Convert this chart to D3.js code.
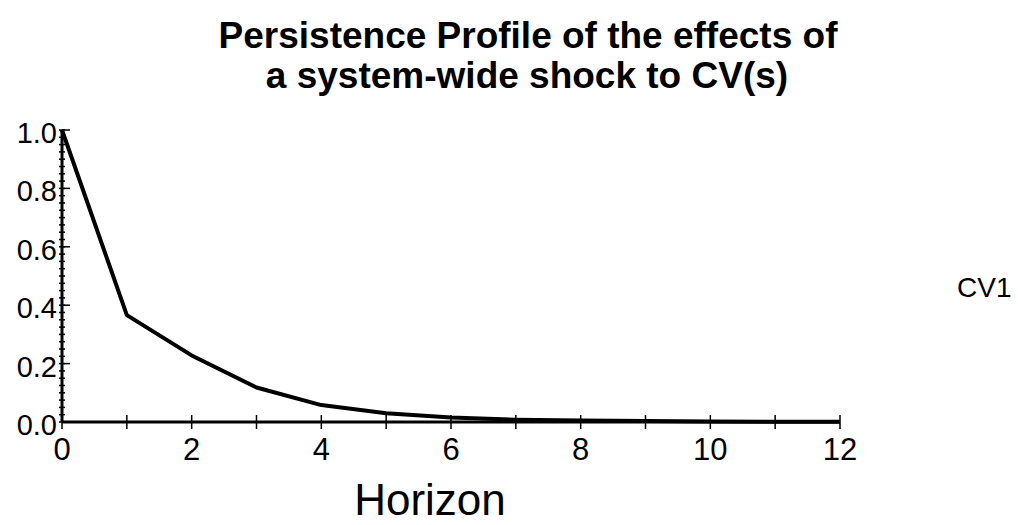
<!DOCTYPE html>
<html>
<head>
<meta charset="utf-8">
<script src="https://d3js.org/d3.v7.min.js"></script>
<style>
body { margin: 0; background: #fff; }
text { font-family: "Liberation Sans", Arial, sans-serif; fill: #000; }
</style>
</head>
<body>
<svg id="chart" width="1018" height="525"></svg>
<script>
// persistence profile values, horizon 0..12
var horizon = [0, 1, 2, 3, 4, 5, 6, 7, 8, 9, 10, 11, 12];
var cv1 = [1.0, 0.366, 0.228, 0.118, 0.058, 0.03, 0.015, 0.008, 0.005, 0.003, 0.002, 0.001, 0.001];
var xLabels = [0, 2, 4, 6, 8, 10, 12];
var yLabels = [0.0, 0.2, 0.4, 0.6, 0.8, 1.0];

var svg = d3.select('#chart');
var margin = { top: 130, left: 62, right: 178, bottom: 103 };
var innerW = 1018 - margin.left - margin.right;
var innerH = 525 - margin.top - margin.bottom;

var x = d3.scaleLinear().domain([0, 12]).range([0, innerW]);
var y = d3.scaleLinear().domain([0, 1]).range([innerH, 0]);

var g = svg.append('g').attr('transform', `translate(${margin.left},${margin.top})`);

// title
svg.append('text').attr('x', 528).attr('y', 48)
	.style('text-anchor', 'middle').style('font-size', '37px').style('font-weight', 'bold')
	.text('Persistence Profile of the effects of');
svg.append('text').attr('x', 527).attr('y', 88)
	.style('text-anchor', 'middle').style('font-size', '37px').style('font-weight', 'bold')
	.text('a system-wide shock to CV(s)');

// y axis minor ticks (cross the axis)
var yMinor = d3.range(0, 41).map(d => d * 0.025);
g.selectAll('.ymin').data(yMinor).enter().append('line')
	.attr('x1', -3).attr('x2', 3)
	.attr('y1', d => y(d)).attr('y2', d => y(d))
	.style('stroke', '#000').style('stroke-width', 1.5);
g.selectAll('.ymaj').data(yLabels).enter().append('line')
	.attr('x1', 0).attr('x2', 8)
	.attr('y1', d => y(d)).attr('y2', d => y(d))
	.style('stroke', '#000').style('stroke-width', 1.5);
g.append('line').attr('x1', 0).attr('x2', 0).attr('y1', y(0)).attr('y2', y(1))
	.style('stroke', '#000').style('stroke-width', 3);
g.selectAll('.ylab').data(yLabels).enter().append('text')
	.attr('x', -5).attr('y', d => y(d) + 13)
	.style('text-anchor', 'end').style('font-size', '29px')
	.text(d => d.toFixed(1));

// x axis
g.append('line').attr('x1', 0).attr('x2', x(12)).attr('y1', y(0)).attr('y2', y(0))
	.style('stroke', '#000').style('stroke-width', 3);
g.selectAll('.xt').data(horizon).enter().append('line')
	.attr('x1', d => x(d)).attr('x2', d => x(d))
	.attr('y1', y(0) - 7).attr('y2', y(0) + 7)
	.style('stroke', '#000').style('stroke-width', 1.5);
g.selectAll('.xlab').data(xLabels).enter().append('text')
	.attr('x', d => x(d)).attr('y', y(0) + 38)
	.style('text-anchor', 'middle').style('font-size', '31px')
	.text(d => d);

svg.append('text').attr('x', 430).attr('y', 515)
	.style('text-anchor', 'middle').style('font-size', '44px')
	.text('Horizon');

// profile line
var line = d3.line().x((d, i) => x(horizon[i])).y(d => y(d));
g.append('path').datum(cv1).attr('d', line)
	.style('fill', 'none').style('stroke', '#000').style('stroke-width', 4)
	.style('stroke-linejoin', 'round');

svg.append('text').attr('x', 957).attr('y', 297)
	.style('font-size', '28px')
	.text('CV1');
</script>
</body>
</html>
